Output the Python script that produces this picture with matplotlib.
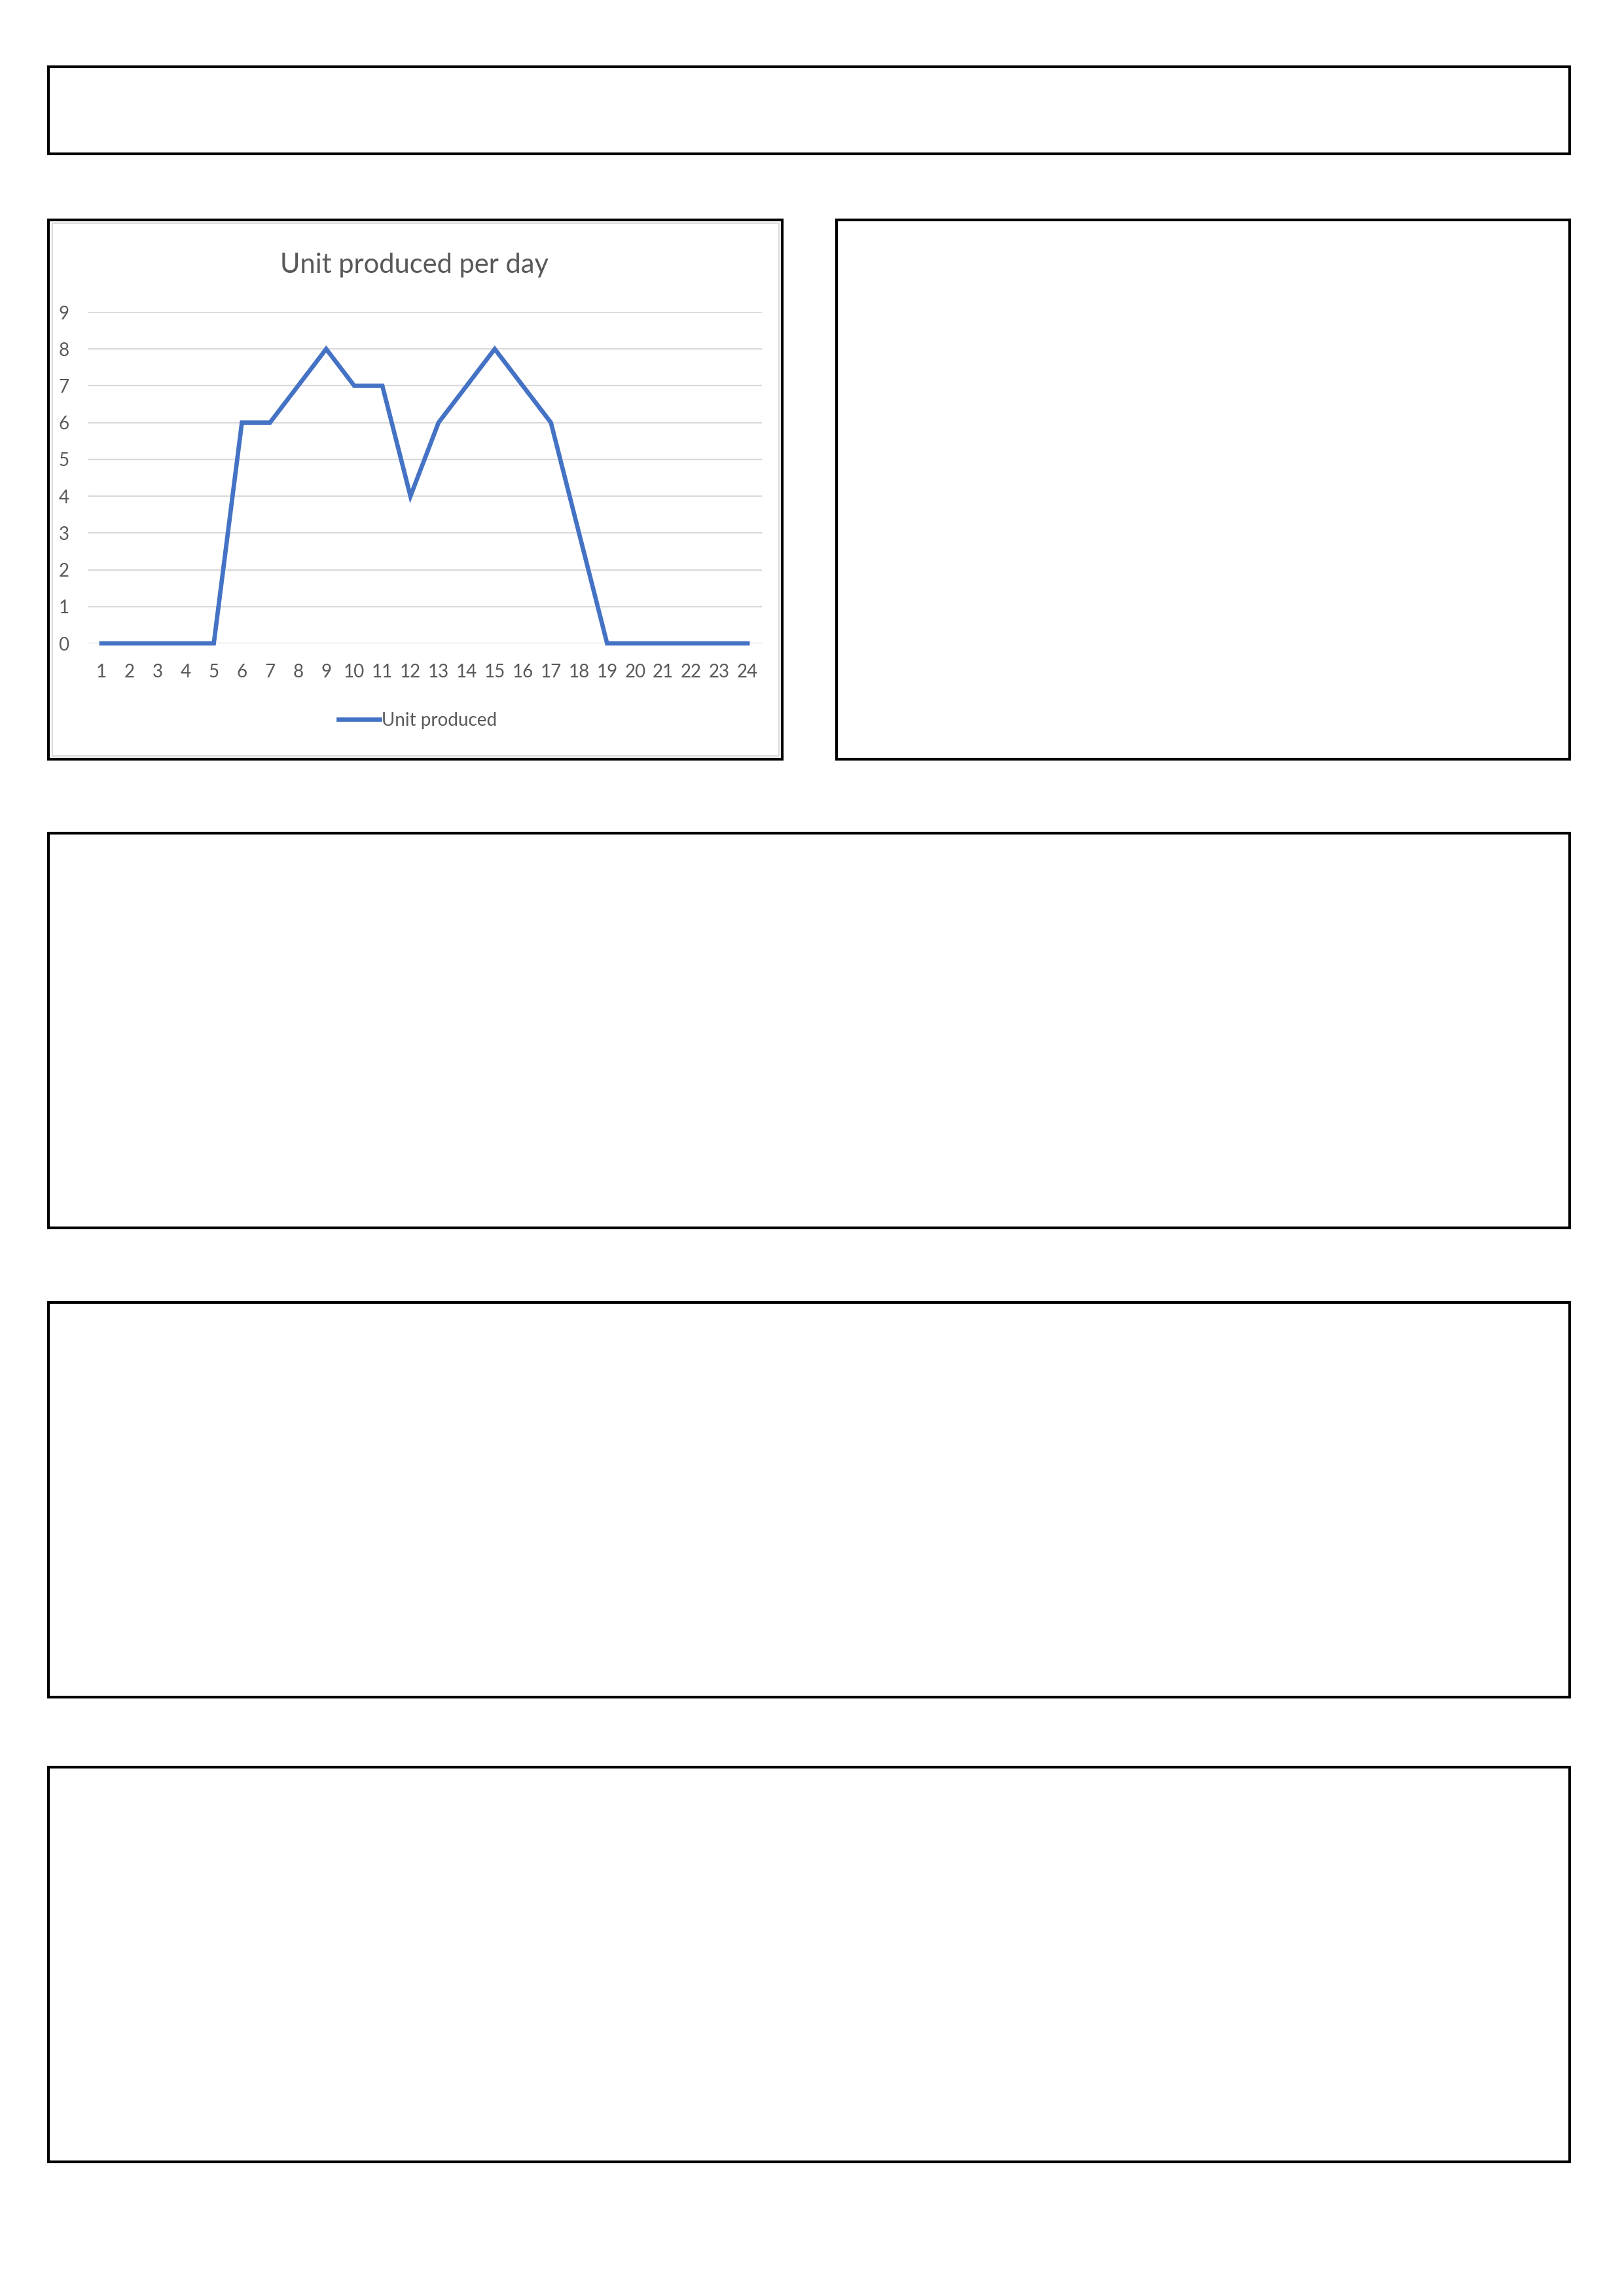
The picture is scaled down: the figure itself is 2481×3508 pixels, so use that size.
import matplotlib.pyplot as plt
from matplotlib.patches import Rectangle

# datos del grafico
dias = list(range(1, 25))
unidades = [0, 0, 0, 0, 0, 6, 6, 7, 8, 7, 7, 4, 6, 7, 8, 7, 6, 3, 0, 0, 0, 0, 0, 0]
y_ticks = list(range(0, 10))
titulo = "Unit produced per day"
etiqueta = "Unit produced"

W, H = 2481, 3508
plt.rcParams['font.family'] = ['Lato', 'DejaVu Sans']
fig = plt.figure(figsize=(W / 100, H / 100), dpi=100)


def px_x(x):
    return x / W


def px_y(y):
    return 1 - y / H


def caja(x0, y0, x1, y1, color='black', lw=3.0):
    # rectangulo en pixeles de la pagina
    r = Rectangle((px_x(x0), px_y(y1)), px_x(x1) - px_x(x0), px_y(y0) - px_y(y1),
                  transform=fig.transFigure, fill=False, edgecolor=color, linewidth=lw)
    fig.add_artist(r)


# cajas vacias
caja(74, 102, 2398, 235)
caja(74, 336, 1195, 1160)
caja(80, 341, 1190, 1155, color='#d9d9d9', lw=1.5)
caja(1278, 336, 2398, 1160)
caja(74, 1273, 2398, 1876)
caja(74, 1990, 2398, 2593)
caja(74, 2700, 2398, 3303)

# ejes del grafico
ax = fig.add_axes([px_x(133.5), px_y(983), px_x(1163.5) - px_x(133.5), px_y(477) - px_y(983)])
ax.plot(dias, unidades, color='#4472c4', linewidth=4.8, solid_joinstyle='miter',
        clip_on=False, label=etiqueta, zorder=3)
ax.set_xlim(0.5, 24.5)
ax.set_ylim(0, 9)
ax.set_xticks(dias)
ax.set_yticks(y_ticks)
ax.tick_params(axis='both', length=0, labelsize=20, colors='#595959')
ax.tick_params(axis='x', pad=22)
ax.tick_params(axis='y', pad=20)
ax.grid(axis='y', color='#d9d9d9', linewidth=1.6)
ax.set_axisbelow(True)
for s in ax.spines.values():
    s.set_visible(False)

fig.text(px_x(633), px_y(417), titulo, ha='center', va='baseline', fontsize=30, color='#595959')

ax.legend(loc='center', bbox_to_anchor=(px_x(638), px_y(1101)), bbox_transform=fig.transFigure,
          frameon=False, fontsize=20, handlelength=2.3, handletextpad=0.1,
          labelcolor='#595959')

fig.savefig('out.png', dpi=100)
